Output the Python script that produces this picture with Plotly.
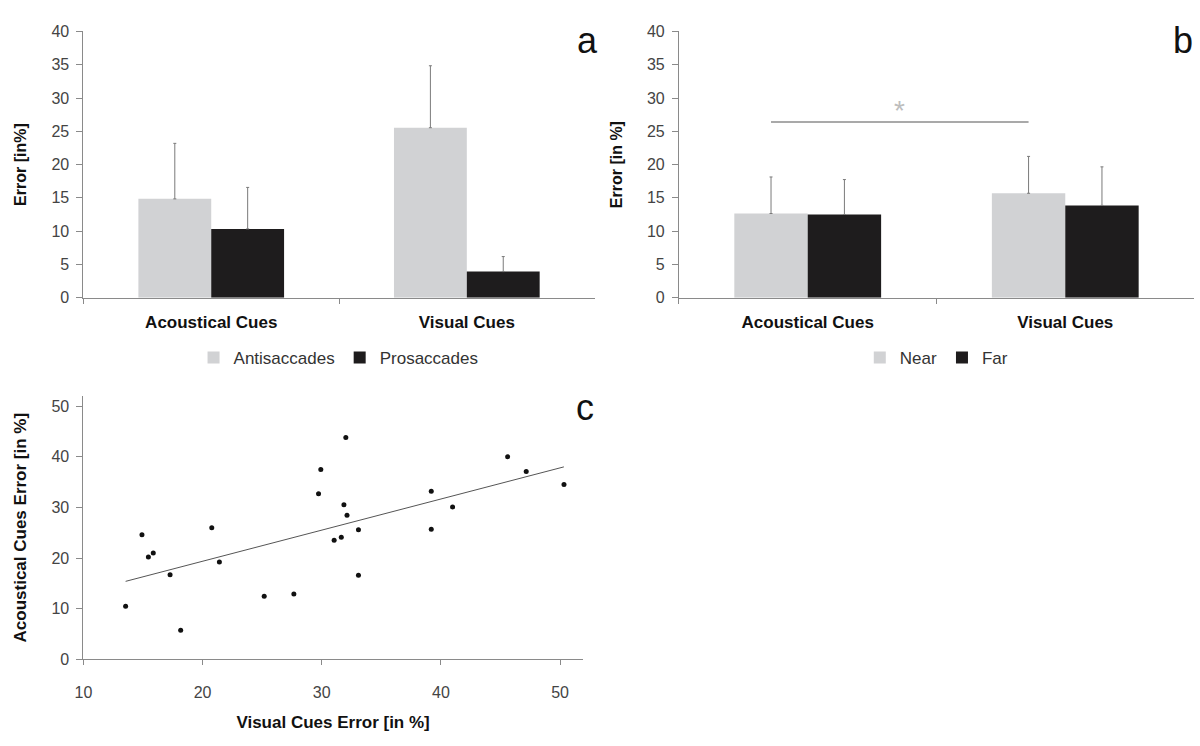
import plotly.graph_objects as go

# ---------------- data ----------------
categories = ["Acoustical Cues", "Visual Cues"]

# panel a
antisaccades = [14.85, 25.54]
antisaccades_sd = [8.34, 9.31]
prosaccades = [10.34, 3.92]
prosaccades_sd = [6.23, 2.26]

# panel b
near = [12.65, 15.69]
near_sd = [5.49, 5.54]
far = [12.50, 13.87]
far_sd = [5.25, 5.79]
sig_level = 26.4

# panel c
visual_err = [13.54, 14.91, 15.45, 15.86, 17.27, 18.16, 20.77, 21.41, 25.17, 27.66,
              29.73, 29.92, 31.04, 31.64, 31.86, 32.02, 32.12, 33.08, 33.08, 39.19,
              39.19, 40.98, 45.60, 47.16, 50.33]
acoustic_err = [10.5, 24.6, 20.2, 21.0, 16.7, 5.74, 26.0, 19.2, 12.45, 12.9,
                32.7, 37.5, 23.5, 24.1, 30.5, 43.8, 28.45, 25.6, 16.6, 33.2,
                25.7, 30.1, 40.0, 37.1, 34.5]
trend_x = [13.54, 50.32]
trend_y = [15.4, 38.0]

y_ticks_bar = [0, 5, 10, 15, 20, 25, 30, 35, 40]
x_ticks_sc = [10, 20, 30, 40, 50]
y_ticks_sc = [0, 10, 20, 30, 40, 50]

# ---------------- style ----------------
FONT = "Liberation Sans, Arial, sans-serif"
LIGHT = "#D1D2D4"
DARK = "#1E1C1D"
AXIS = "#8A8A8A"
ERR = "#7A7A7A"
TICKFONT = dict(family=FONT, size=16, color="#444444")
BARGAP = 0.43

def err(arr):
    return dict(type="data", symmetric=False, array=arr, arrayminus=[0] * len(arr),
                color=ERR, thickness=1, width=1.5)

fig = go.Figure()
fig.add_trace(go.Bar(x=categories, y=antisaccades, name="Antisaccades", marker=dict(color=LIGHT, line_width=0),
                     error_y=err(antisaccades_sd), xaxis="x", yaxis="y", legend="legend"))
fig.add_trace(go.Bar(x=categories, y=prosaccades, name="Prosaccades", marker=dict(color=DARK, line_width=0),
                     error_y=err(prosaccades_sd), xaxis="x", yaxis="y", legend="legend"))
fig.add_trace(go.Bar(x=categories, y=near, name="Near", marker=dict(color=LIGHT, line_width=0),
                     error_y=err(near_sd), xaxis="x2", yaxis="y2", legend="legend2"))
fig.add_trace(go.Bar(x=categories, y=far, name="Far", marker=dict(color=DARK, line_width=0),
                     error_y=err(far_sd), xaxis="x2", yaxis="y2", legend="legend2"))
fig.add_trace(go.Scatter(x=visual_err, y=acoustic_err, mode="markers", showlegend=False,
                         marker=dict(color="#111111", size=5), xaxis="x3", yaxis="y3"))
fig.add_trace(go.Scatter(x=trend_x, y=trend_y, mode="lines", showlegend=False,
                         line=dict(color="#555555", width=1), xaxis="x3", yaxis="y3"))

cat_axis = dict(type="category", showline=True, linecolor=AXIS, linewidth=1, ticks="outside",
                tickson="boundaries", ticklen=5, tickcolor=AXIS, range=[-0.5, 1.5],
                showgrid=False, zeroline=False, ticklabelstandoff=9,
                tickfont=dict(family=FONT, size=17, color="#111111", weight="bold"))
bar_y = dict(range=[0, 40], tickvals=y_ticks_bar, showline=True, linecolor=AXIS, linewidth=1,
             ticks="outside", ticklen=6, tickcolor=AXIS, showgrid=False, zeroline=False,
             tickfont=TICKFONT, ticklabelstandoff=4)
TITLEFONT = dict(family=FONT, size=16, color="#111111", weight="bold")

fig.update_layout(
    width=1200, height=746, margin=dict(l=0, r=0, t=0, b=0),
    paper_bgcolor="white", plot_bgcolor="white",
    barmode="group", bargap=BARGAP, bargroupgap=0,
    xaxis=dict(domain=[0.0625, 0.4917], anchor="y", **cat_axis),
    yaxis=dict(domain=[0.6026, 0.9678], anchor="x",
               title=dict(text="Error [in%]", font=TITLEFONT, standoff=20), **bar_y),
    xaxis2=dict(domain=[0.5625, 0.995], anchor="y2", **cat_axis),
    yaxis2=dict(domain=[0.6026, 0.9678], anchor="x2",
                title=dict(text="Error [in %]", font=TITLEFONT, standoff=20), **bar_y),
    xaxis3=dict(domain=[0.0625, 0.4817], anchor="y3", range=[10, 51.9], tickvals=x_ticks_sc,
                showline=True, linecolor=AXIS, linewidth=1, ticks="outside", ticklen=5, tickcolor=AXIS,
                showgrid=False, zeroline=False, tickfont=TICKFONT, ticklabelstandoff=13,
                title=dict(text="Visual Cues Error [in %]",
                           font=dict(family=FONT, size=17, color="#111111", weight="bold"), standoff=16)),
    yaxis3=dict(domain=[0.1065, 0.4678], anchor="x3", range=[0, 52], tickvals=y_ticks_sc,
                showline=True, linecolor=AXIS, linewidth=1, ticks="outside", ticklen=6, tickcolor=AXIS,
                showgrid=False, zeroline=False, tickfont=TICKFONT, ticklabelstandoff=4,
                title=dict(text="Acoustical Cues Error [in %]",
                           font=dict(family=FONT, size=17, color="#111111", weight="bold"), standoff=20)),
    legend=dict(orientation="h", x=0.2767, xanchor="center", y=0.52, yanchor="middle",
                font=dict(family=FONT, size=17, color="#333333"), itemwidth=30, bgcolor="rgba(0,0,0,0)",
                traceorder="normal"),
    legend2=dict(orientation="h", x=0.779, xanchor="center", y=0.52, yanchor="middle",
                 font=dict(family=FONT, size=17, color="#333333"), itemwidth=30, bgcolor="rgba(0,0,0,0)",
                 traceorder="normal"),
)

# significance bracket in panel b: from the 'Near' bar of the first group to that of the second
near_offset = -(1 - BARGAP) / 4
fig.add_shape(type="line", xref="x2", yref="y2", x0=0 + near_offset, x1=1 + near_offset,
              y0=sig_level, y1=sig_level, line=dict(color="#8C8C8C", width=1.5))
fig.add_annotation(xref="x2", yref="y2", x=0.5 + near_offset, y=sig_level, yanchor="bottom",
                   text="*", showarrow=False, yshift=-6,
                   font=dict(family=FONT, size=28, color="#BDBDBD"))

# panel letters
for label, px, py in [("a", 583, 33), ("b", 1183, 33), ("c", 580, 409)]:
    fig.add_annotation(xref="paper", yref="paper", x=px / 1200, y=1 - py / 746,
                       xanchor="center", yanchor="middle", text=label, showarrow=False,
                       font=dict(family=FONT, size=36, color="#111111"))

# remove the browser's default 8px body margin so the figure fills the window exactly
fig.write_html("out.html", config={"displayModeBar": False},
               post_script="document.body.style.margin='0px';")
